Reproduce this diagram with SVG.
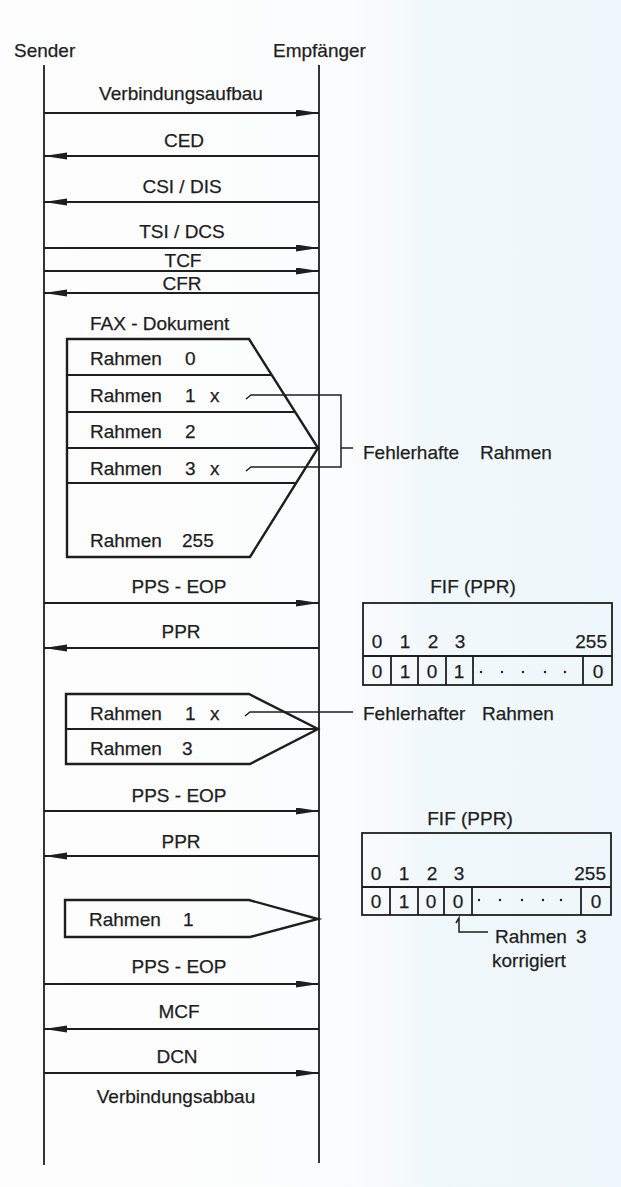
<svg xmlns="http://www.w3.org/2000/svg" width="621" height="1187" viewBox="0 0 621 1187">
<style>
text{font-family:"Liberation Sans",Arial,sans-serif;font-size:19px;fill:#1e1e1e;stroke:#1e1e1e;stroke-width:0.25}
.c{text-anchor:middle}
.e{text-anchor:end}
.life{stroke:#1e1e1e;stroke-width:1.8;fill:none}
.msg{stroke:#1e1e1e;stroke-width:1.8;fill:none;marker-end:url(#ah)}
.doc{stroke:#1e1e1e;stroke-width:2.4;fill:none;stroke-linejoin:miter}
.sep{stroke:#1e1e1e;stroke-width:1.8;fill:none}
.ptr{stroke:#1e1e1e;stroke-width:1.5;fill:none}
.box{stroke:#1e1e1e;stroke-width:1.8;fill:none}
.dot{fill:#1e1e1e}
</style>
<defs>
<marker id="ah" markerUnits="userSpaceOnUse" markerWidth="26" markerHeight="8" refX="23" refY="3.5" orient="auto">
<path d="M0,0 L23,3.5 L0,7 z" fill="#1e1e1e"/>
</marker>
<linearGradient id="bg" x1="0" y1="0" x2="1" y2="0">
<stop offset="0" stop-color="#fdfdfd"/>
<stop offset="0.55" stop-color="#fbfcfd"/>
<stop offset="0.7" stop-color="#f1f8fb"/>
<stop offset="1" stop-color="#eef7fb"/>
</linearGradient>
</defs>
<rect x="0" y="0" width="621" height="1187" fill="url(#bg)"/>

<g id="sender">
<text x="14" y="57">Sender</text>
<line class="life" x1="44" y1="65" x2="44" y2="1165"/>
</g>
<g id="empfaenger">
<text x="273" y="57">Empfänger</text>
<line class="life" x1="319" y1="65" x2="319" y2="1163"/>
</g>

<g id="connectors">
<line class="msg" x1="44" y1="113" x2="319" y2="113"/>
<line class="msg" x1="319" y1="156" x2="44" y2="156"/>
<line class="msg" x1="319" y1="202" x2="44" y2="202"/>
<line class="msg" x1="44" y1="248" x2="319" y2="248"/>
<line class="msg" x1="44" y1="271" x2="319" y2="271"/>
<line class="msg" x1="319" y1="293" x2="44" y2="293"/>
<line class="msg" x1="44" y1="603" x2="319" y2="603"/>
<line class="msg" x1="319" y1="648" x2="44" y2="648"/>
<line class="msg" x1="44" y1="811" x2="319" y2="811"/>
<line class="msg" x1="319" y1="856" x2="44" y2="856"/>
<line class="msg" x1="44" y1="984" x2="319" y2="984"/>
<line class="msg" x1="319" y1="1029" x2="44" y2="1029"/>
<line class="msg" x1="44" y1="1073" x2="319" y2="1073"/>
</g>

<g id="labels">
<text class="c" x="181" y="100">Verbindungsaufbau</text>
<text class="c" x="184" y="147">CED</text>
<text class="c" x="182" y="193">CSI / DIS</text>
<text class="c" x="182" y="238">TSI / DCS</text>
<text class="c" x="183" y="267">TCF</text>
<text class="c" x="182" y="290">CFR</text>
<text class="c" x="179" y="593">PPS - EOP</text>
<text class="c" x="181" y="638">PPR</text>
<text class="c" x="179" y="802">PPS - EOP</text>
<text class="c" x="181" y="848">PPR</text>
<text class="c" x="179" y="973">PPS - EOP</text>
<text class="c" x="179" y="1018">MCF</text>
<text class="c" x="177" y="1063">DCN</text>
<text class="c" x="176" y="1103">Verbindungsabbau</text>
</g>

<g id="fax-dokument">
<text x="90" y="330">FAX - Dokument</text>
<polygon class="doc" points="67,339 249,339 318,448 250,557 67,557"/>
<line class="sep" x1="67" y1="375" x2="272" y2="375"/>
<line class="sep" x1="67" y1="412" x2="296" y2="412"/>
<line class="sep" x1="67" y1="448" x2="318" y2="448"/>
<line class="sep" x1="67" y1="483" x2="297" y2="483"/>
<text x="90" y="365">Rahmen</text><text x="185" y="365">0</text>
<text x="90" y="402">Rahmen</text><text x="185" y="402">1</text><text x="210" y="402">x</text>
<text x="90" y="438">Rahmen</text><text x="185" y="438">2</text>
<text x="90" y="475">Rahmen</text><text x="185" y="475">3</text><text x="210" y="475">x</text>
<text x="90" y="547">Rahmen</text><text x="182" y="547">255</text>
</g>

<g id="fehlerhafte-rahmen">
<path class="ptr" d="M246,399 L251,395 L341,395 L341,467 L251,467 L246,471"/>
<line class="ptr" x1="341" y1="448" x2="353" y2="448"/>
<text x="363" y="459">Fehlerhafte</text><text x="480" y="459">Rahmen</text>
</g>

<g id="fif-1">
<text class="c" x="473" y="593">FIF (PPR)</text>
<rect class="box" x="363" y="603" width="249" height="82"/>
<line class="box" x1="363" y1="656" x2="612" y2="656"/>
<line class="box" x1="391" y1="656" x2="391" y2="685"/>
<line class="box" x1="418" y1="656" x2="418" y2="685"/>
<line class="box" x1="446" y1="656" x2="446" y2="685"/>
<line class="box" x1="473" y1="656" x2="473" y2="685"/>
<line class="box" x1="583" y1="656" x2="583" y2="685"/>
<text class="c" x="377" y="648">0</text><text class="c" x="405" y="648">1</text><text class="c" x="433" y="648">2</text><text class="c" x="460" y="648">3</text><text class="e" x="607" y="648">255</text>
<text class="c" x="377" y="678">0</text><text class="c" x="405" y="678">1</text><text class="c" x="432" y="678">0</text><text class="c" x="459" y="678">1</text><text class="c" x="598" y="678">0</text>
<circle class="dot" cx="481" cy="672" r="1.2"/><circle class="dot" cx="502" cy="672" r="1.2"/><circle class="dot" cx="523" cy="672" r="1.2"/><circle class="dot" cx="545" cy="672" r="1.2"/><circle class="dot" cx="565" cy="672" r="1.2"/>
</g>

<g id="wiederholung-1">
<polygon class="doc" points="66,694 249,694 318,729 250,764 66,764"/>
<line class="sep" x1="66" y1="729" x2="318" y2="729"/>
<text x="90" y="720">Rahmen</text><text x="185" y="720">1</text><text x="210" y="720">x</text>
<text x="90" y="755">Rahmen</text><text x="182" y="755">3</text>
</g>

<g id="fehlerhafter-rahmen">
<path class="ptr" d="M245,716 L250,712 L353,712"/>
<text x="363" y="720">Fehlerhafter</text><text x="482" y="720">Rahmen</text>
</g>

<g id="fif-2">
<text class="c" x="470" y="825">FIF (PPR)</text>
<rect class="box" x="362" y="833" width="249" height="82"/>
<line class="box" x1="362" y1="887" x2="611" y2="887"/>
<line class="box" x1="390" y1="887" x2="390" y2="915"/>
<line class="box" x1="418" y1="887" x2="418" y2="915"/>
<line class="box" x1="444" y1="887" x2="444" y2="915"/>
<line class="box" x1="472" y1="887" x2="472" y2="915"/>
<line class="box" x1="581" y1="887" x2="581" y2="915"/>
<text class="c" x="376" y="880">0</text><text class="c" x="404" y="880">1</text><text class="c" x="432" y="880">2</text><text class="c" x="459" y="880">3</text><text class="e" x="606" y="880">255</text>
<text class="c" x="376" y="908">0</text><text class="c" x="404" y="908">1</text><text class="c" x="431" y="908">0</text><text class="c" x="458" y="908">0</text><text class="c" x="596" y="908">0</text>
<circle class="dot" cx="479" cy="900" r="1.2"/><circle class="dot" cx="500" cy="900" r="1.2"/><circle class="dot" cx="522" cy="900" r="1.2"/><circle class="dot" cx="543" cy="900" r="1.2"/><circle class="dot" cx="561" cy="900" r="1.2"/>
</g>

<g id="korrigiert">
<path class="ptr" d="M456,923 L459,918 L459,932 L488,932"/>
<text x="495" y="943">Rahmen</text><text x="576" y="943">3</text>
<text x="492" y="967">korrigiert</text>
</g>

<g id="wiederholung-2">
<polygon class="doc" points="65,900 249,900 318,919 250,937 65,937"/>
<text x="89" y="926">Rahmen</text><text x="183" y="926">1</text>
</g>
</svg>
